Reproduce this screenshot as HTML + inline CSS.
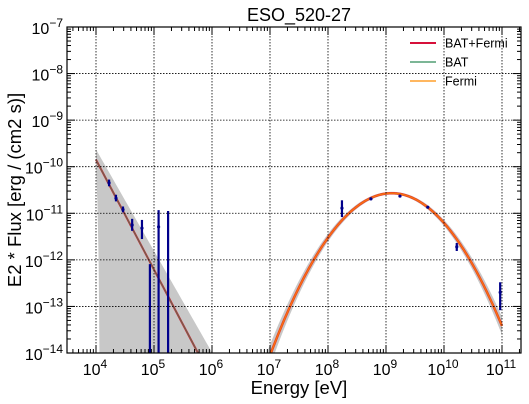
<!DOCTYPE html>
<html><head><meta charset="utf-8"><style>
html,body{margin:0;padding:0;background:#fff;}
svg{display:block;font-family:"Liberation Sans","DejaVu Sans",sans-serif;}
</style></head><body>
<svg id="chart" width="529" height="404" viewBox="0 0 529 404"></svg>
<script>
// ---- data ----
const xTickExp = [4,5,6,7,8,9,10,11];
const yTickExp = [-14,-13,-12,-11,-10,-9,-8,-7];
const batE = [1.68e4, 2.21e4, 2.92e4, 4.2e4, 6.2e4, 1.2e5];
const batF = [4.5e-11, 2.1e-11, 1.2e-11, 5.6e-12, 4.8e-12, 5.1e-12];
const batLo = [3.8e-11, 1.8e-11, 1.05e-11, 4.2e-12, 2.8e-12, 1e-14];
const batHi = [5.3e-11, 2.5e-11, 1.4e-11, 7.6e-12, 7.2e-12, 1.17e-11];
const batUlE = [8.5e4, 1.75e5];
const batUlF = [8.1e-13, 1.12e-11];
const fermiE = [1.74e8, 5.5e8, 1.74e9, 5.25e9, 1.66e10, 9.3e10];
const fermiF = [1.29e-11, 2.04e-11, 2.34e-11, 1.35e-11, 1.9e-12, 2.0e-13];
const fermiLo = [8.3e-12, 1.95e-11, 2.25e-11, 1.3e-11, 1.55e-12, 8.3e-14];
const fermiHi = [1.9e-11, 2.14e-11, 2.44e-11, 1.4e-11, 2.3e-12, 3.3e-13];
const plNorm = 1.41e-10, plIndex = -2.36;
const bandUpNorm = 2.35e-10, bandUpIndex = -2.18;
const lpPeakE = 1.26e9, lpPeakF = 2.7e-11, lpCurv = 0.79;

// ---- axes ----
const L=67,R=521,T=27,B=353;
const sx = e => 96 + (Math.log10(e)-4)*58;
const sy = f => 27 + (-7-Math.log10(f))*46.57;
const svg=document.getElementById('chart');
const NS='http://www.w3.org/2000/svg';
function mk(tag,attrs,parent){const el=document.createElementNS(NS,tag);for(const k in attrs)el.setAttribute(k,attrs[k]);(parent||svg).appendChild(el);return el;}

const clip=mk('clipPath',{id:'pc'});mk('rect',{x:L,y:T,width:R-L,height:B-T},clip);
const plot=mk('g',{'clip-path':'url(#pc)'});



// BAT band
(function(){
  let up=[];
  for(let l=4;l<=6.3;l+=0.05){up.push([sx(10**l),sy(bandUpNorm*10**(bandUpIndex*(l-4)))]);}
  const pts=up.map(p=>p.join(',')).join(' ')+` ${sx(10**6.3)},${B+5} ${sx(10**4.06)},${B+5} ${sx(10**4.045)},260 ${sx(10**4.025)},205 ${sx(1e4)},166`;
  const p=mk('polygon',{points:pts,fill:'#c8c8c8'},plot);
  
  
})();
// Fermi band
function lp(l){return Math.log10(lpPeakF)-lpCurv*(l-Math.log10(lpPeakE))**2;}
(function(){
  let up=[],lo=[];
  const c=Math.log10(lpPeakE);
  for(let l=6.9;l<=11.0001;l+=0.05){const w=0.03+0.045*(l-c)**2;up.push([sx(10**l),sy(10**(lp(l)+w))]);lo.push([sx(10**l),sy(10**(lp(l)-w))]);}
  const pts=up.concat(lo.reverse()).map(p=>p.join(',')).join(' ');
  const p=mk('polygon',{points:pts,fill:'#c8c8c8'},plot);
  
  
})();

// grid
xTickExp.forEach(e=>{const g=mk('line',{x1:sx(10**e),x2:sx(10**e),y1:T,y2:B,stroke:'#000','stroke-width':0.8,'stroke-dasharray':'1.5,1.5'});});
yTickExp.forEach(e=>{const g=mk('line',{x1:L,x2:R,y1:sy(10**e),y2:sy(10**e),stroke:'#000','stroke-width':0.8,'stroke-dasharray':'1.5,1.5'});});

// models
(function(){
  let d='';for(let l=4;l<=6.2;l+=0.05){d+=(d?'L':'M')+sx(10**l)+','+sy(plNorm*10**(plIndex*(l-4)));}
  const a=mk('path',{d,fill:'none',stroke:'#c42a3a','stroke-width':2},plot);
  
  const b=mk('path',{d,fill:'none',stroke:'#3a8a5a','stroke-width':0.8,'stroke-opacity':0.8},plot);
  
  let d2='';for(let l=7;l<=11.0001;l+=0.02){d2+=(d2?'L':'M')+sx(10**l)+','+sy(10**lp(l));}
  const c=mk('path',{d:d2,fill:'none',stroke:'#e8402a','stroke-width':2.5},plot);
  
  const f=mk('path',{d:d2,fill:'none',stroke:'#ff8c00','stroke-width':1,'stroke-opacity':0.8},plot);
  
})();

// data points
function pts(E,F,Lo,Hi,name){
  E.forEach((e,i)=>{
    const x=sx(e);
    const l=mk('line',{x1:x,x2:x,y1:sy(Hi[i]),y2:sy(Lo[i]),stroke:'#00008b','stroke-width':2.2},plot);
    
    const c=mk('circle',{cx:x,cy:sy(F[i]),r:1.6,fill:'#00008b'},plot);
    
  });
}
pts(batE,batF,batLo,batHi,'bat');
pts(fermiE,fermiF,fermiLo,fermiHi,'fermi');
batUlE.forEach((e,i)=>{const l=mk('line',{x1:sx(e),x2:sx(e),y1:sy(batUlF[i]),y2:B+5,stroke:'#00008b','stroke-width':2.2},plot);});

// frame
const fr=mk('rect',{x:L,y:T,width:R-L,height:B-T,fill:'none',stroke:'#000','stroke-width':1.2});


// ticks
for(let e=3;e<=11;e++){for(let m=1;m<10;m++){const v=m*10**e;const x=sx(v);if(x<L||x>R)continue;const len=m==1?8:4;
  mk('line',{x1:x,x2:x,y1:B,y2:B-len,stroke:'#000','stroke-width':1});mk('line',{x1:x,x2:x,y1:T,y2:T+len,stroke:'#000','stroke-width':1});}}
for(let e=-14;e<=-7;e++){for(let m=1;m<10;m++){const v=m*10**e;const y=sy(v);if(y<T-0.1||y>B+0.1)continue;const len=m==1?8:4;
  mk('line',{x1:L,x2:L+len,y1:y,y2:y,stroke:'#000','stroke-width':1});mk('line',{x1:R,x2:R-len,y1:y,y2:y,stroke:'#000','stroke-width':1});}}

// tick labels
xTickExp.forEach(e=>{const t=mk('text',{x:sx(10**e)-1,y:375,'text-anchor':'middle','font-size':16});t.innerHTML=`10<tspan dy="-7" font-size="12">${e}</tspan>`;});
yTickExp.forEach(e=>{const t=mk('text',{x:63,y:sy(10**e)+7,'text-anchor':'end','font-size':16});t.innerHTML=`10<tspan dy="-7" font-size="12">${e<0?'\u2212'+(-e):e}</tspan>`;});

// titles
let t=mk('text',{x:299,y:21,'text-anchor':'middle','font-size':18});t.textContent='ESO_520-27';
t=mk('text',{x:299,y:394,'text-anchor':'middle','font-size':18.5});t.textContent='Energy [eV]';
t=mk('text',{x:0,y:0,'text-anchor':'middle','font-size':18.5,transform:'translate(21,190) rotate(-90)'});t.textContent='E2 * Flux [erg / (cm2 s)]';

// legend
const leg=[['BAT+Fermi','#d6103a',2],['BAT','#2e8b57',1.2],['Fermi','#ff8c00',1.2]];
leg.forEach((d,i)=>{const y=43+i*19;
  const g=mk('g',{});
  mk('line',{x1:410,x2:436,y1:y,y2:y,stroke:d[1],'stroke-width':d[2]},g);
  const tx=mk('text',{x:445,y:y+4.5,'font-size':12.5},g);tx.textContent=d[0];});
</script>
</body></html>
